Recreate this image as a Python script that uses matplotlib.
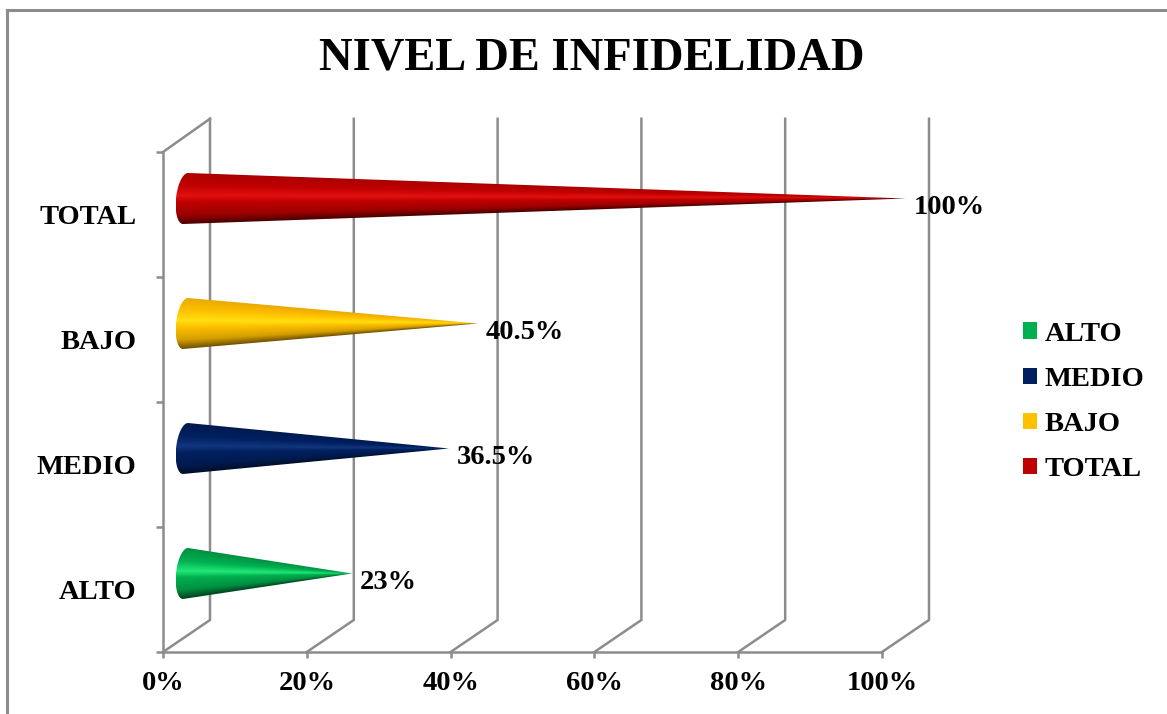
import numpy as np
import matplotlib
matplotlib.use("Agg")
import matplotlib.pyplot as plt
from matplotlib.colors import to_rgb
from matplotlib.lines import Line2D
from matplotlib.patches import Patch, PathPatch
from matplotlib.path import Path

categories = ["ALTO", "MEDIO", "BAJO", "TOTAL"]
values = [0.23, 0.365, 0.405, 1.0]
value_labels = ["23%", "36.5%", "40.5%", "100%"]
x_ticks = [0, 0.2, 0.4, 0.6, 0.8, 1.0]
x_tick_labels = ["0%", "20%", "40%", "60%", "80%", "100%"]
base_colors = ["#00B050", "#002060", "#FFC000", "#C00000"]
bright_colors = ["#22E878", "#12367E", "#FFE010", "#E31010"]
top_colors = ["#009040", "#001A50", "#E8A800", "#A80000"]
dark_colors = ["#00401C", "#000E28", "#705000", "#4A0000"]

W, H = 1167, 714
GRAY = "#8C8C8C"
LABEL_SIZE = 20.5
plt.rcParams["font.family"] = ["Liberation Serif", "DejaVu Serif"]
plt.rcParams["font.weight"] = "bold"

fig = plt.figure(figsize=(W / 100, H / 100), dpi=100)
ax = fig.add_axes([163 / W, 1 - 652 / H, 719 / W, 500 / H])

# depth of the fake 3d box, in data units
depth_x = 47 / 719
depth_y = 32 / 125

for v in x_ticks:
    ax.add_line(Line2D([v, v + depth_x, v + depth_x], [0, depth_y, 4 + depth_y + 0.01],
                       color=GRAY, lw=1.8, clip_on=False, zorder=1))
ax.add_line(Line2D([0, depth_x], [4, 4 + depth_y + 0.01], color=GRAY, lw=1.8,
                   clip_on=False, zorder=1))


def cone_image(i, value, pos):
    # cone lying on its side, shaded across its height
    half = 25.5 / 125
    cx = depth_x / 2 - 1 / 719
    cy = pos + depth_y / 2
    tip = value + depth_x / 2

    t = np.linspace(np.pi / 2, 3 * np.pi / 2, 40)
    xs = cx + 9.5 / 719 * np.cos(t) + 2.5 / 719 * np.sin(t)
    ys = cy + half * np.sin(t)
    verts = list(zip(xs, ys)) + [(tip, cy), (xs[0], ys[0])]
    path = Path(verts, closed=True)

    x0, x1 = xs.min(), tip
    y0, y1 = cy - half, cy + half
    gx, gy = np.meshgrid(np.linspace(x0, x1, 700), np.linspace(y0, y1, 90))
    frac = np.clip(1 - (gx - cx) / (tip - cx), 0.004, 1)
    v = np.clip((gy - cy) / (half * frac), -1, 1)

    base = np.array(to_rgb(base_colors[i]))
    dark = np.array(to_rgb(dark_colors[i]))
    stops = [-1, -0.65, -0.15, 0.1, 0.5, 1]
    cols = np.array([dark, 0.7 * base + 0.3 * dark, base, to_rgb(bright_colors[i]),
                     base, to_rgb(top_colors[i])])
    rgb = np.dstack([np.interp(v, stops, cols[:, k]) for k in range(3)])

    im = ax.imshow(rgb, extent=[x0, x1, y0, y1], origin="lower", aspect="auto",
                   interpolation="bilinear", zorder=3)
    patch = PathPatch(path, transform=ax.transData, fc="none", ec="none", clip_on=False)
    ax.add_patch(patch)
    im.set_clip_box(fig.bbox)
    im.set_clip_path(patch)


for i, val in enumerate(values):
    cone_image(i, val, i + 0.5)
    ax.annotate(value_labels[i], (val + depth_x / 2, i + 0.5 + depth_y / 2),
                xytext=(6, -6.8), textcoords="offset points", fontsize=LABEL_SIZE,
                fontweight="bold", ha="left", va="center", zorder=4, annotation_clip=False)
ax.set_xlim(0, 1)
ax.set_ylim(0, 4)

for side in ["top", "right"]:
    ax.spines[side].set_visible(False)
for side in ["left", "bottom"]:
    ax.spines[side].set_color(GRAY)
    ax.spines[side].set_linewidth(1.8)
ax.patch.set_visible(False)

ax.set_xticks(x_ticks)
ax.set_xticklabels(x_tick_labels, fontsize=LABEL_SIZE, fontweight="bold")
ax.set_yticks(range(5))
ax.set_yticklabels([])
ax.set_yticks(np.arange(len(categories)) + 0.5, minor=True)
ax.set_yticklabels(categories, minor=True, fontsize=LABEL_SIZE, fontweight="bold")
ax.tick_params(axis="x", color=GRAY, width=1.8, length=4, pad=10)
ax.tick_params(axis="y", which="major", color=GRAY, width=1.8, length=5)
ax.tick_params(axis="y", which="minor", length=0, pad=19)

fig.text(592 / W, 1 - 59 / H, "NIVEL DE INFIDELIDAD", fontsize=33.5, fontweight="bold",
         ha="center", va="center")

handles = [Patch(fc=c, ec="none") for c in base_colors]
fig.legend(handles, categories, loc="center left", bbox_to_anchor=(1023 / W, 1 - 402 / H),
           frameon=False, fontsize=LABEL_SIZE, handlelength=0.5, handleheight=0.5,
           handletextpad=0.25, labelspacing=0.71, borderpad=0, borderaxespad=0)

# frame of the chart, right and bottom edges fall outside the crop
fig.add_artist(Line2D([7 / W, 7 / W], [0, 1 - 10 / H], color=GRAY, lw=2.2,
                      transform=fig.transFigure))
fig.add_artist(Line2D([7 / W, 1], [1 - 10 / H, 1 - 10 / H], color=GRAY, lw=2.2,
                      transform=fig.transFigure))

fig.savefig("out.png", dpi=100)
